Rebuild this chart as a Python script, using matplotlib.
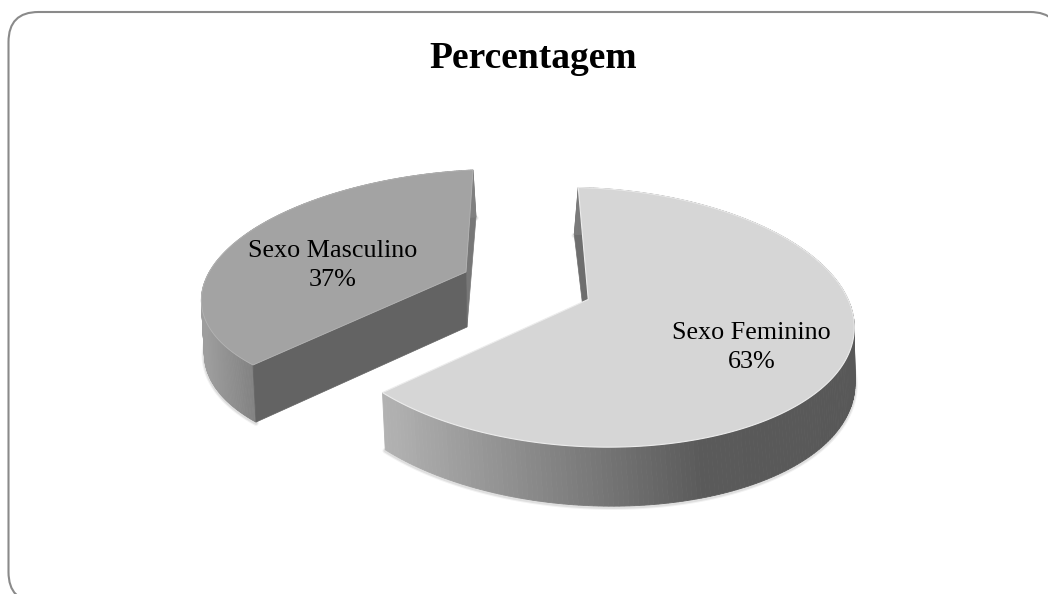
import numpy as np
import matplotlib
matplotlib.use("Agg")
import matplotlib.pyplot as plt
from matplotlib.patches import Polygon, PathPatch
from matplotlib.path import Path

TITLE = "Percentagem"
categories = ["Sexo Feminino", "Sexo Masculino"]
percent = [63, 37]

plt.rcParams['font.family'] = ['Liberation Serif', 'DejaVu Serif']

fig = plt.figure(figsize=(10.48, 5.94), dpi=100)
ax = fig.add_axes([0, 0, 1, 1])
ax.set_xlim(0, 1048)
ax.set_ylim(594, 0)
ax.axis('off')

share = [p * 3.6 for p in percent]
split = 90 - share[0]


def fit_projection(src, dst, weights):
    """Projective map of a slice's unit circle on to the picture, fitted from anchors."""
    A, b = [], []
    for (x, y), (u, v), k in zip(src, dst, weights):
        A.append([k * x, k * y, k, 0, 0, 0, -k * u * x, -k * u * y]); b.append(k * u)
        A.append([0, 0, 0, k * x, k * y, k, -k * v * x, -k * v * y]); b.append(k * v)
    h = np.linalg.lstsq(np.array(A), np.array(b), rcond=None)[0]
    return np.append(h, 1).reshape(3, 3)


split_pt = [np.cos(np.radians(split)), np.sin(np.radians(split))]
H_fem = fit_projection([[0, 0], [0, 1], split_pt, [1, 0], [0, -1]],
                       [[587, 297], [579, 188], [383, 396], [853, 324], [604, 440]],
                       [4, 3, 3, 1, 1.5])
H_mas = fit_projection([[0, 0], [0, 1], split_pt, [-1, 0]],
                       [[466, 272], [473, 170], [253, 365], [204, 284]],
                       [1, 1, 1, 1])


def project(H, X, Y):
    w = H[2, 0] * X + H[2, 1] * Y + 1
    return (H[0, 0] * X + H[0, 1] * Y + H[0, 2]) / w, (H[1, 0] * X + H[1, 1] * Y + H[1, 2]) / w


def lerp_gray(x, stops):
    xs, gs = zip(*stops)
    g = np.interp(x, xs, gs) / 255
    return (g, g, g)


def draw_slice(H, t0, t1, rim_stops, dx_fn):
    t = np.radians(np.linspace(t0, t1, 240))
    px, py = project(H, np.cos(t), np.sin(t))
    ax0, ay0 = project(H, 0.0, 0.0)
    LY = np.sin(t)
    sx = dx_fn(LY)
    sy = 53 - 6 * LY
    bx, by = px + sx, py + sy
    # soft shadow under the wall
    for lw, al in [(4, .05), (2.5, .08)]:
        ax.plot(bx, by + 1, color='k', lw=lw, alpha=al, zorder=1, solid_capstyle='round')
    # rim
    for i in range(len(px) - 1):
        c = lerp_gray((px[i] + px[i + 1]) / 2, rim_stops)
        ax.add_patch(Polygon([(px[i], py[i]), (px[i + 1], py[i + 1]), (bx[i + 1], by[i + 1]), (bx[i], by[i])],
                             closed=True, fc=c, ec=c, lw=0.6, zorder=2))
    return px, py, ax0, ay0, sx, sy


def cut_face(p0, p1, s0, s1, col, z=3):
    ax.add_patch(Polygon([p0, p1, (p1[0] + s1[0], p1[1] + s1[1]), (p0[0] + s0[0], p0[1] + s0[1])],
                         closed=True, fc=col, ec=col, lw=0.5, zorder=z))


# Masculino slice (behind)
px, py, ax0, ay0, sx, sy = draw_slice(H_mas, split, split - share[1],
                                      [(205, 158), (255, 128)], lambda Y: 3 + 0 * Y)
cut_face((ax0, ay0), (px[0], py[0]), (1, 55), (sx[0], sy[0]), '#636363', z=3)
cut_face((ax0, ay0), (px[-1], py[-1]), (1, 55), (sx[-1], sy[-1]), '#777777', z=1.5)
ax.add_patch(Polygon(np.column_stack([np.r_[ax0, px], np.r_[ay0, py]]), closed=True,
                     fc='#a3a3a3', ec='#b4b4b4', lw=0.6, zorder=4))

# Feminino slice (front)
px, py, ax0, ay0, sx, sy = draw_slice(H_fem, 90, split,
                                      [(385, 178), (700, 90), (860, 88)], lambda Y: -4 * Y)
cut_face((ax0, ay0), (px[0], py[0]), (0, 53), (sx[0], sy[0]), '#6e6e6e', z=1.5)
ax.add_patch(Polygon(np.column_stack([np.r_[ax0, px], np.r_[ay0, py]]), closed=True,
                     fc='#d6d6d6', ec='#ececec', lw=0.8, zorder=4))

# Labels
ax.text(751.5, 347.5, f"{categories[0]}\n{percent[0]}%", ha='center', va='center', fontsize=18.8, color='black',
        linespacing=1.38, zorder=6)
ax.text(333, 265.5, f"{categories[1]}\n{percent[1]}%", ha='center', va='center', fontsize=18.8, color='black',
        linespacing=1.38, zorder=6)

ax.text(533.5, 59, TITLE, ha='center', va='center', fontsize=27, fontweight='bold', color='black', zorder=6)

# Frame
r = 30
L, T, R, B = 8.5, 12, 1060, 602
verts = [(L + r, B), (L, B), (L, B - r), (L, T + r), (L, T), (L + r, T), (R - r, T), (R, T), (R, T + r)]
codes = [Path.MOVETO, Path.CURVE3, Path.CURVE3, Path.LINETO, Path.CURVE3, Path.CURVE3, Path.LINETO, Path.CURVE3, Path.CURVE3]
ax.add_patch(PathPatch(Path(verts, codes), fc='none', ec='#8a8a8a', lw=1.5, zorder=7))

fig.savefig('out.png', dpi=100, facecolor='white')
